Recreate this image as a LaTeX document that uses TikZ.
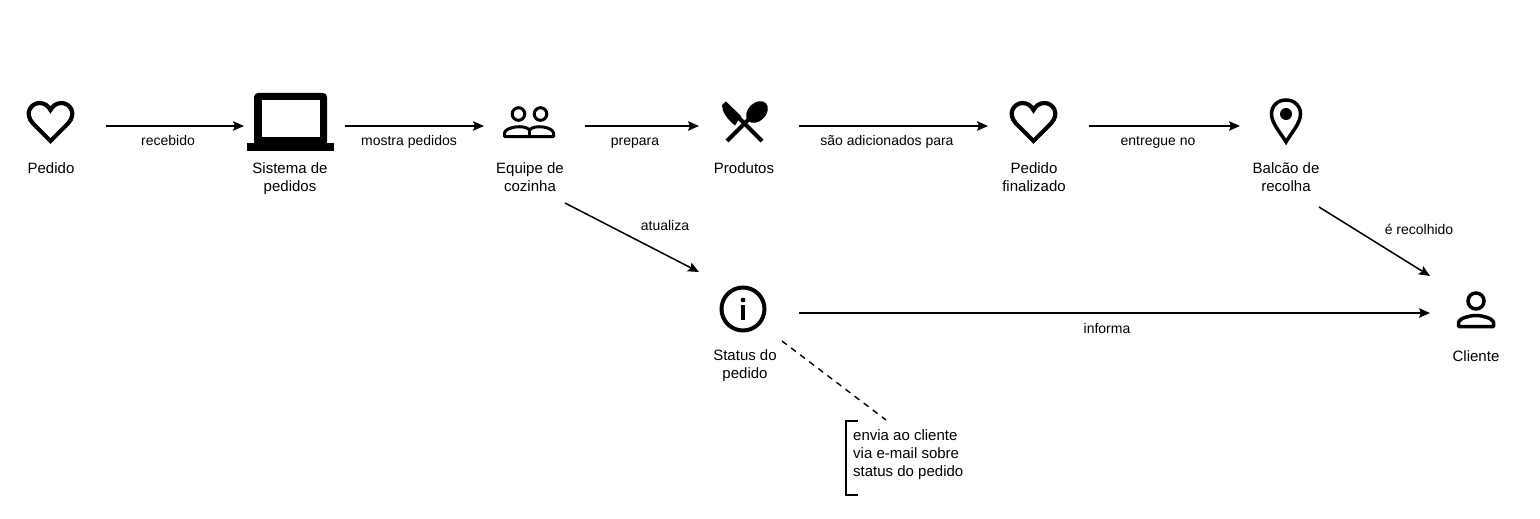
\documentclass[tikz,border=0pt]{standalone}
\usepackage{fontspec}
\setmainfont{Liberation Sans}
\usetikzlibrary{arrows.meta}
\tikzset{
  flow/.style={line width=1.5pt,-{Stealth[length=11pt,width=9.5pt,inset=2pt]}},
  iconbox/.style={inner sep=0pt,outer sep=0pt},
  lbl/.style={inner sep=0pt,align=center,font=\fontsize{15}{18}\selectfont},
  elbl/.style={inner sep=0pt,anchor=base,font=\fontsize{14}{17}\selectfont},
  heart/.pic={
    \draw[line width=4.2pt,line join=miter,miter limit=3] (0,19) -- (-17.5,1.5)
      .. controls (-27,-9) and (-19,-19) .. (-11,-19)
      .. controls (-6,-19) and (-2,-16) .. (0,-12)
      .. controls (2,-16) and (6,-19) .. (11,-19)
      .. controls (19,-19) and (27,-9) .. (17.5,1.5) -- cycle;
  }
}
\begin{document}
\begin{tikzpicture}[x=1pt,y=-1pt]
  \useasboundingbox (0,0) rectangle (1540,519);

  % boxes round the icons, the arrows start and end on them
  \node[iconbox,minimum width=112pt,minimum height=60pt] (ped) at (50,126) {};
  \node[iconbox,minimum width=101pt,minimum height=60pt] (sis) at (294.5,126) {};
  \node[iconbox,minimum width=101pt,minimum height=60pt] (equ) at (534.5,126) {};
  \node[iconbox,minimum width=100pt,minimum height=60pt] (pro) at (749,126) {};
  \node[iconbox,minimum width=101pt,minimum height=60pt] (fin) at (1038.5,126) {};
  \node[iconbox,minimum width=90pt,minimum height=60pt] (bal) at (1285,126) {};
  \node[iconbox,minimum width=100pt,minimum height=82pt] (sta) at (749,313) {};
  \node[iconbox,minimum width=90pt,minimum height=74pt] (cli) at (1475,313) {};

  % icons
  \pic (heartped) at (50.5,122) {heart};
  \pic (heartfin) at (1033.5,122) {heart};

  \fill[rounded corners=4pt] (254,146) -- (254,93) -- (327,93) -- (327,146) -- cycle;
  \fill[white] (262,99.5) rectangle (320,137);
  \fill (247,143) rectangle (334,151);

  \draw[line width=3pt] (518.5,114) circle[radius=6.3];
  \draw[line width=3pt] (540.5,114) circle[radius=6.3];
  \draw[line width=3pt,line join=round] (504.5,136.5) -- (504.5,133) .. controls (505,127) and (525,124) .. (529.5,130)
    .. controls (534,124) and (553,127) .. (553.5,133) -- (553.5,136.5) -- cycle;
  \draw[line width=2.5pt] (529.5,130) -- (529.5,136.5);

  \draw[line width=4pt] (727,141) -- (760,108);
  \draw[line width=4pt] (762,141) -- (737,116);
  \fill (722,105) -- (726,101.5) -- (741,116) -- (735,125.5) .. controls (727,119) and (722,112) .. (722,105) -- cycle;
  \fill[rotate around={45:(757,112)}] (757,112) ellipse[x radius=12.5,y radius=9];

  \draw[line width=3.5pt,line join=miter] (1286,142) .. controls (1280,132) and (1271.5,123) .. (1271.5,114)
    .. controls (1271.5,105.5) and (1278,100) .. (1286,100)
    .. controls (1294,100) and (1300.5,105.5) .. (1300.5,114)
    .. controls (1300.5,123) and (1292,132) .. (1286,142) -- cycle;
  \fill (1286,114) circle[radius=6];

  \draw[line width=4pt] (743,309) circle[radius=21.5];
  \fill (743,300) circle[radius=2.4];
  \draw[line width=4pt] (743,305) -- (743,320);

  \draw[line width=3.5pt] (1476,301) circle[radius=8];
  \draw[line width=3.5pt,line join=round] (1458.5,326.5) -- (1458.5,322) .. controls (1460,318) and (1470,315.5) .. (1476,315.5)
    .. controls (1482,315.5) and (1492,318) .. (1493.5,322) -- (1493.5,326.5) -- cycle;

  % icon labels
  \node[lbl] (pedl) at (51,168) {Pedido};
  \node[lbl] (sisl) at (290,179) {Sistema de\\pedidos};
  \node[lbl] (equl) at (530,177) {Equipe de\\cozinha};
  \node[lbl] (prol) at (744,168) {Produtos};
  \node[lbl] (finl) at (1034,177) {Pedido\\finalizado};
  \node[lbl] (ball) at (1286,177) {Balcão de\\recolha};
  \node[lbl] (stal) at (745,366) {Status do\\pedido};
  \node[lbl] (clil) at (1476,356) {Cliente};

  % free ends of the slanted lines
  \coordinate (equout) at (565,203);
  \coordinate (balout) at (1319,207);
  \coordinate (staout) at (782,341);
  \coordinate (noteout) at (886,420);

  \draw[flow] (ped.east) -- (sis.west);
  \draw[flow] (sis.east) -- (equ.west);
  \draw[flow] (equ.east) -- (pro.west);
  \draw[flow] (pro.east) -- (fin.west);
  \draw[flow] (fin.east) -- (bal.west);
  \draw[flow] (equout) -- (sta.north west);
  \draw[flow] (balout) -- (cli.north west);
  \draw[flow] (sta.east) -- (cli.west);
  \draw[line width=1.4pt,dash pattern=on 6pt off 5.4pt] (staout) -- (noteout);

  % arrow labels
  \node[elbl] (recl) at (168,145.5) {recebido};
  \node[elbl] (mosl) at (409,145.5) {mostra pedidos};
  \node[elbl] (prel) at (635,145.5) {prepara};
  \node[elbl] (adil) at (887,145.5) {são adicionados para};
  \node[elbl] (entl) at (1158,145.5) {entregue no};
  \node[elbl] (atul) at (665,230) {atualiza};
  \node[elbl] (recol) at (1419,234) {é recolhido};
  \node[elbl] (infl) at (1107,333) {informa};

  % note
  \draw[line width=2pt] (858,420.5) -- (846,420.5) -- (846,495) -- (858,495);
  \node[lbl,align=left,anchor=west] (note) at (853,455) {envia ao cliente\\via e-mail sobre\\status do pedido};
\end{tikzpicture}
\end{document}
